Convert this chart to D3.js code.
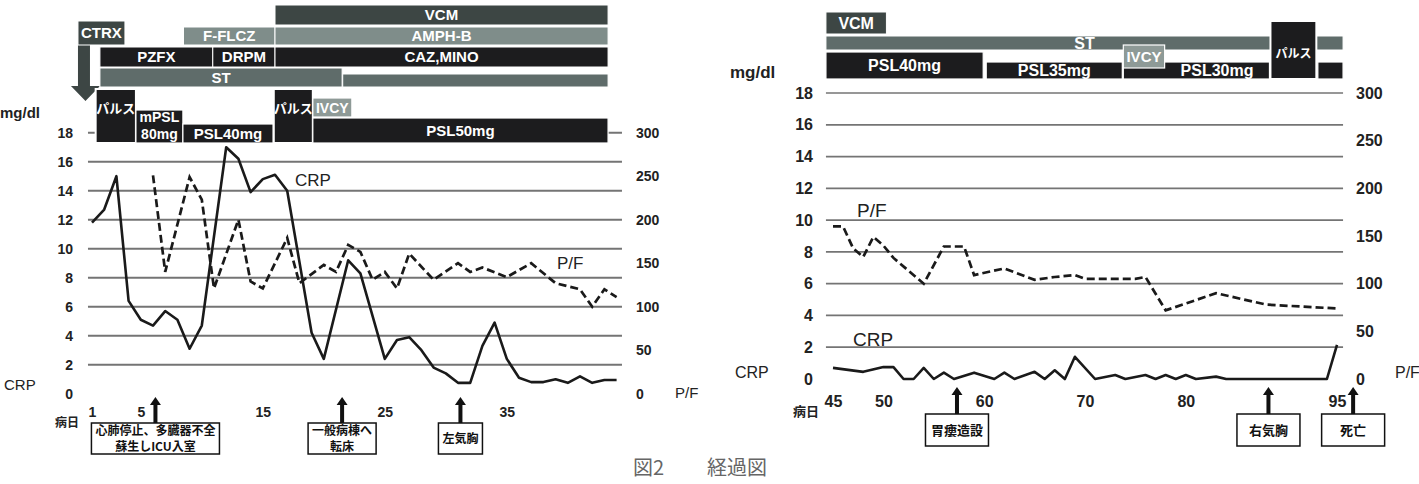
<!DOCTYPE html>
<html><head><meta charset="utf-8">
<script src="https://cdn.jsdelivr.net/npm/d3@7"></script>
<style>body{margin:0;background:#fff}svg{display:block}</style>
</head><body>
<svg id="c" width="1419" height="484"></svg>
<script>
// ---------- data (left panel: days 1-44) ----------
const leftCrpDays   = [1,2,3,4,5,6,7,8,9,10,12,13,14,15,16,17,19,20,22,23,25,26,27,28,29,30,31,32,33,34,35,36,37,38,39,40,41,42,43,44];
const leftCrpValues = [11.8,12.7,15.0,6.4,5.1,4.7,5.7,5.1,3.1,4.7,17.0,16.2,13.9,14.8,15.1,14.0,4.2,2.4,9.2,8.3,2.4,3.7,3.9,3.0,1.8,1.4,0.75,0.75,3.3,4.9,2.4,1.1,0.8,0.8,1.0,0.75,1.2,0.75,0.95,0.95];
const leftPfDays    = [6,7,9,10,11,13,14,15,17,18,20,21,22,23,24,25,26,27,29,31,32,33,35,37,39,41,42,43,44];
const leftPfValues  = [251,140,249,223,121,200,129,121,179,127,148,140,171,163,131,140,121,161,131,150,140,145,134,150,127,120,100,120,111];
const leftDayTicks  = [1,5,15,25,35];

// ---------- data (right panel: days 45-95) ----------
const rightCrpDays   = [45,48,50,51,52,53,54,55,56,57,59,61,62,63,65,66,67,68,69,71,73,74,76,77,78,79,80,81,83,84,94,95];
const rightCrpValues = [0.7,0.45,0.75,0.75,0,0,0.7,0,0.4,0,0.4,0,0.4,0,0.45,0,0.55,0,1.4,0,0.25,0,0.25,0,0.25,0,0.25,0,0.15,0,0,2.15];
const rightPfDays    = [45,46,47,48,49,50,51,54,56,58,59,62,65,67,69,70,75,76,78,83,88,95];
const rightPfValues  = [160,160,137,128,149,140,127,100,139,139,109,116,104,107,109,105,105,107,72,90,78,74];
const rightDayTicks  = [45,50,60,70,80,95];

// ---------- axis ticks ----------
const crpTicks = [0,2,4,6,8,10,12,14,16,18];
const pfTicks  = [0,50,100,150,200,250,300];

// ---------- treatments ----------
const leftDrugLabels  = ["CTRX","F-FLCZ","AMPH-B","VCM","PZFX","DRPM","CAZ,MINO","ST",""];
const leftDrugStarts  = [-0.15,8.5,16.0,16.0,1.65,10.9,16.0,1.65,21.55];
const leftDrugEnds    = [3.7,16.0,43.3,43.3,10.9,16.0,43.3,21.5,43.3];
const leftDrugLanes   = ["ctrx","fungal","fungal","vcm","abx","abx","abx","st","st2"];

const leftSteroidLabels = ["パルス","mPSL|80mg","PSL40mg","パルス","PSL50mg","IVCY"];
const leftSteroidStarts = [1.3,4.6,8.45,15.9,19.1,19.1];
const leftSteroidEnds   = [4.6,8.45,15.85,19.1,43.3,22.3];
const leftSteroidKinds  = ["pulse","mpsl80","psl40","pulse","psl50","ivcy"];

const rightDrugLabels = ["VCM","ST"];
const rightDrugStarts = [44.3,44.3];
const rightDrugEnds   = [50.3,95.6];
const rightDrugLanes  = ["vcm","st"];

const rightSteroidLabels = ["PSL40mg","PSL35mg","PSL30mg","パルス","","IVCY"];
const rightSteroidStarts = [44.3,60.2,73.8,88.4,93.1,73.8];
const rightSteroidEnds   = [59.9,73.7,88.3,92.95,95.6,77.9];
const rightSteroidKinds  = ["psl40","psl35","psl30","pulse","psl30","ivcy"];

// ---------- events ----------
const leftEventDays  = [6.2,21.5,31.2];
const leftEventTexts = [["心肺停止、多臓器不全","蘇生しICU入室"],["一般病棟へ","転床"],["左気胸"]];
const rightEventDays  = [57.3,88.2,96.6];
const rightEventTexts = [["胃瘻造設"],["右気胸"],["死亡"]];

// ================= drawing =================
const svg = d3.select("#c");
const LAT = "'Liberation Sans', Arial, sans-serif";
const CJK = "'Noto Sans CJK JP', 'Noto Sans', sans-serif";
const colors = {dark:"#3d4644", black:"#1c1c1e", light:"#7f8d8a", st:"#5f6c6a", ivcy:"#8e9a97"};

function zip(a,b){ return a.map((d,i)=>({day:d, v:b[i]})); }

function panel(cfg){
  const g = svg.append("g");
  const x = d3.scaleLinear().domain(cfg.xDomain).range(cfg.xRange);
  const yL = d3.scaleLinear().domain([0,18]).range([cfg.y0, cfg.y18]);
  const yR = d3.scaleLinear().domain([0,300]).range([cfg.y0, cfg.y18]);

  // gridlines
  g.selectAll("line.grid").data(crpTicks.filter(v=>v>0)).join("line")
    .attr("x1", x(cfg.gridFrom)).attr("x2", x(cfg.gridTo))
    .attr("y1", d=>yL(d)).attr("y2", d=>yL(d))
    .attr("stroke","#747474").attr("stroke-width",cfg.gridW);

  // left axis
  const ax = g.append("g").attr("transform",`translate(${cfg.leftAxisX},0)`)
    .call(d3.axisLeft(yL).tickValues(crpTicks).tickSize(0).tickPadding(0));
  ax.select(".domain").remove();
  ax.selectAll("text").attr("font-family",LAT).attr("font-weight","bold").attr("font-size",cfg.axFs).attr("fill","#222");
  // right axis
  const axr = g.append("g").attr("transform",`translate(${cfg.rightAxisX},0)`)
    .call(d3.axisRight(yR).tickValues(pfTicks).tickSize(0).tickPadding(0));
  axr.select(".domain").remove();
  axr.selectAll("text").attr("font-family",LAT).attr("font-weight","bold").attr("font-size",cfg.axFs).attr("fill","#222");
  // day axis
  const axb = g.append("g").attr("transform",`translate(0,${cfg.dayY})`)
    .call(d3.axisBottom(x).tickValues(cfg.dayTicks).tickSize(0).tickPadding(0));
  axb.select(".domain").remove();
  axb.selectAll("text").attr("y",0).attr("dy","0.35em")
    .attr("font-family",LAT).attr("font-weight","bold").attr("font-size",cfg.axFs).attr("fill","#222");

  // labels
  const T = (tx,ty,s,fs,opt={}) => g.append("text").attr("x",tx).attr("y",ty).text(s)
      .attr("font-family",opt.ff||LAT).attr("font-size",fs).attr("font-weight",opt.fw||"normal")
      .attr("fill",opt.fill||"#222").attr("text-anchor",opt.anchor||"start");
  T(cfg.mgX, cfg.mgY, "mg/dl", cfg.mgFs, {fw:"bold"});
  T(cfg.crpX, cfg.crpY, "CRP", cfg.crpFs);
  T(cfg.pfX, cfg.pfY, "P/F", cfg.crpFs);
  T(cfg.byX, cfg.byY, "病日", cfg.byFs, {ff:CJK, fw:"bold"});
  T(cfg.inCrp[0], cfg.inCrp[1], "CRP", cfg.inFs);
  T(cfg.inPf[0], cfg.inPf[1], "P/F", cfg.inFs);

  // lines
  const lineL = d3.line().x(d=>x(d.day)).y(d=>yL(d.v));
  const lineR = d3.line().x(d=>x(d.day)).y(d=>yR(d.v));
  g.append("path").datum(zip(cfg.pfDays,cfg.pfValues)).attr("d",lineR)
    .attr("fill","none").attr("stroke","#1a1a1a").attr("stroke-width",2.7).attr("stroke-dasharray","8,4");
  g.append("path").datum(zip(cfg.crpDays,cfg.crpValues)).attr("d",lineL)
    .attr("fill","none").attr("stroke","#1a1a1a").attr("stroke-width",2.6).attr("stroke-linejoin","round");

  // drug bars
  cfg.drugs.forEach(d=>{
    const ln = cfg.lanes[d.lane];
    const x0 = x(d.start), x1 = x(d.end);
    if (d.lane==="ctrx"){
      const ax0 = x0, sw = 12;
      g.append("path").attr("d",
        `M${ax0},${ln[1]} L${ax0+sw},${ln[1]} L${ax0+sw},86 L${ax0+sw+10},86 L${ax0+sw/2+1.5},101 L${ax0-7},86 L${ax0},86 Z`)
        .attr("fill",colors.dark);
    }
    g.append("rect").attr("x",x0).attr("y",ln[0]).attr("width",x1-x0).attr("height",ln[1]-ln[0])
      .attr("fill",colors[ln[2]]).attr("stroke","#fff").attr("stroke-width",1);
    if (d.label){
      const cx = d.lane==="st" && cfg.stFull ? x((d.start+d.end)/2) : (x0+x1)/2;
      T(cx,(ln[0]+ln[1])/2+cfg.barFs*0.36,d.label,cfg.barFs,{fw:"bold",fill:"#fff",anchor:"middle"});
    }
  });

  // steroid bars
  const ivcy = cfg.steroids.find(s=>s.kind==="ivcy");
  cfg.steroids.forEach(s=>{
    const k = cfg.kinds[s.kind];
    const x0 = x(s.start), x1 = x(s.end);
    g.append("rect").attr("x",x0).attr("y",k[0]).attr("width",x1-x0).attr("height",k[1]-k[0])
      .attr("fill",colors[k[2]]).attr("stroke","#fff").attr("stroke-width",s.kind==="pulse"?2:1.2);
    if (!s.label) return;
    let ls = s.start;
    if (ivcy && s!==ivcy && ivcy.start<=s.start+0.2 && ivcy.end>s.start){
      const kv = cfg.kinds.ivcy;
      if (kv[1] > k[0]) ls = ivcy.end;
    }
    const cx = (x(ls)+x1)/2;
    const isJ = s.label==="パルス";
    if (s.label.includes("|")){
      s.label.split("|").forEach((t,i)=>T(cx,k[0]+12+i*17,t,cfg.barFs-1,{fw:"bold",fill:"#fff",anchor:"middle"}));
    } else {
      const ty = isJ ? cfg.pulseTextY : (k[0]+k[1])/2 + cfg.barFs*0.36;
      T(cx,ty,s.label,isJ?cfg.pulseFs:(s.kind==="ivcy"?cfg.barFs-1:cfg.barFs),
        {fw:"bold",fill:"#fff",anchor:"middle",ff:isJ?CJK:LAT});
    }
  });

  // events
  cfg.events.forEach(e=>{
    const cx = x(e.day);
    g.append("path").attr("d",
      `M${cx-2},${cfg.boxTop} L${cx-2},${cfg.arrowTip+8} L${cx-5.5},${cfg.arrowTip+8} L${cx},${cfg.arrowTip} L${cx+5.5},${cfg.arrowTip+8} L${cx+2},${cfg.arrowTip+8} L${cx+2},${cfg.boxTop} Z`)
      .attr("fill","#111");
    const tmp = e.text.map(t=>T(0,0,t,cfg.evFs,{ff:CJK,fw:"bold"}));
    const tw = d3.max(tmp,t=>t.node().getComputedTextLength());
    tmp.forEach(t=>t.remove());
    const w = cfg.boxW || tw+8;
    g.append("rect").attr("x",cx-w/2).attr("y",cfg.boxTop).attr("width",w).attr("height",cfg.boxH)
      .attr("fill","#fff").attr("stroke","#111").attr("stroke-width",1.5);
    const n = e.text.length, lh = cfg.evFs+4;
    e.text.forEach((t,i)=>{
      const cy = cfg.boxTop + cfg.boxH/2 + (i-(n-1)/2)*lh;
      T(cx, cy+cfg.evFs*0.36, t, cfg.evFs, {ff:CJK,fw:"bold",anchor:"middle",fill:"#111"});
    });
  });
}

function mk(labels,starts,ends,lanes,key){ return labels.map((l,i)=>({label:l,start:starts[i],end:ends[i],[key]:lanes[i]})); }

panel({
  xDomain:[1,44], xRange:[92,616.6], gridFrom:0.67, gridTo:44.44, gridW:2,
  y0:393.7, y18:132.7,
  leftAxisX:73, rightAxisX:636, dayY:412, dayTicks:leftDayTicks, axFs:14,
  mgX:0, mgY:118, mgFs:15, crpX:4, crpY:390, pfX:675, pfY:398, crpFs:15,
  byX:55, byY:427, byFs:12,
  inCrp:[295,186], inPf:[557,269], inFs:17,
  crpDays:leftCrpDays, crpValues:leftCrpValues, pfDays:leftPfDays, pfValues:leftPfValues,
  lanes:{vcm:[5,25,"dark"], fungal:[27,45,"light"], ctrx:[21,45,"dark"], abx:[47,67,"black"], st:[68,87,"st"], st2:[74,87,"st"]},
  kinds:{pulse:[89,143,"black"], mpsl80:[110,143,"black"], psl40:[124,143,"black"], psl50:[118,143,"black"], ivcy:[98,117,"ivcy"]},
  drugs:mk(leftDrugLabels,leftDrugStarts,leftDrugEnds,leftDrugLanes,"lane"),
  steroids:mk(leftSteroidLabels,leftSteroidStarts,leftSteroidEnds,leftSteroidKinds,"kind"),
  barFs:15, pulseFs:13, pulseTextY:113, stFull:false,
  events:leftEventDays.map((d,i)=>({day:d,text:leftEventTexts[i]})),
  arrowTip:397, boxTop:423, boxH:31, evFs:12, boxW:null
});

panel({
  xDomain:[45,95], xRange:[833,1337], gridFrom:44.3, gridTo:95.6, gridW:1.7,
  y0:379, y18:93,
  leftAxisX:813, rightAxisX:1356, dayY:401, dayTicks:rightDayTicks, axFs:16,
  mgX:730, mgY:78, mgFs:17, crpX:735, crpY:378, pfX:1395, pfY:378, crpFs:16,
  byX:793, byY:416, byFs:13,
  inCrp:[853,346], inPf:[857,217], inFs:19,
  crpDays:rightCrpDays, crpValues:rightCrpValues, pfDays:rightPfDays, pfValues:rightPfValues,
  lanes:{vcm:[12,34,"dark"], st:[36,50,"st"]},
  kinds:{pulse:[21,79,"black"], psl40:[52,79,"black"], psl35:[62,79,"black"], psl30:[62,79,"black"], ivcy:[45,68,"ivcy"]},
  drugs:mk(rightDrugLabels,rightDrugStarts,rightDrugEnds,rightDrugLanes,"lane"),
  steroids:mk(rightSteroidLabels,rightSteroidStarts,rightSteroidEnds,rightSteroidKinds,"kind"),
  barFs:16, pulseFs:12, pulseTextY:58, stFull:true,
  events:rightEventDays.map((d,i)=>({day:d,text:rightEventTexts[i]})),
  arrowTip:387, boxTop:414, boxH:32, evFs:13, boxW:63
});

// caption
svg.append("text").attr("x",633).attr("y",475).text("図2").attr("font-family",CJK).attr("font-size",20).attr("fill","#666");
svg.append("text").attr("x",707).attr("y",475).text("経過図").attr("font-family",CJK).attr("font-size",20).attr("fill","#666");
</script>
</body></html>
